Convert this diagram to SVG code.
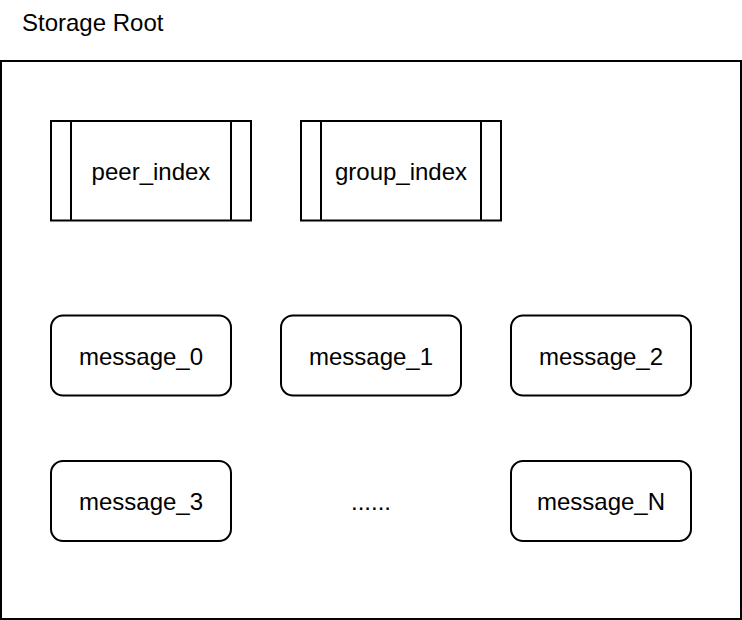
<svg xmlns="http://www.w3.org/2000/svg" width="742" height="620" viewBox="0 0 742 620">
<style>
.box{fill:#fff;stroke:#000;stroke-width:2}
.ln{stroke:#000;stroke-width:2;fill:none}
text{font-family:"Liberation Sans",Arial,Helvetica,sans-serif;font-size:24px;fill:#000}
.c{text-anchor:middle}
</style>
<rect width="742" height="620" fill="#fff"/>
<g id="storage-root">
<rect class="box" x="1" y="61" width="740" height="558"/>
<text x="22" y="31">Storage Root</text>
</g>
<g id="peer_index">
<rect class="box" x="51" y="121" width="200" height="99.5"/>
<line class="ln" x1="71" y1="121" x2="71" y2="220.5"/>
<line class="ln" x1="231" y1="121" x2="231" y2="220.5"/>
<text class="c" x="151" y="180">peer_index</text>
</g>
<g id="group_index">
<rect class="box" x="301" y="121" width="200" height="99.5"/>
<line class="ln" x1="321" y1="121" x2="321" y2="220.5"/>
<line class="ln" x1="481" y1="121" x2="481" y2="220.5"/>
<text class="c" x="401" y="180">group_index</text>
</g>
<g id="message_0">
<rect class="box" x="51" y="315.5" width="180" height="80" rx="12"/>
<text class="c" x="141" y="365">message_0</text>
</g>
<g id="message_1">
<rect class="box" x="281" y="315.5" width="180" height="80" rx="12"/>
<text class="c" x="371" y="365">message_1</text>
</g>
<g id="message_2">
<rect class="box" x="511" y="315.5" width="180" height="80" rx="12"/>
<text class="c" x="601" y="365">message_2</text>
</g>
<g id="message_3">
<rect class="box" x="51" y="461" width="180" height="80" rx="12"/>
<text class="c" x="141" y="510">message_3</text>
</g>
<g id="ellipsis">
<text class="c" x="371" y="510">......</text>
</g>
<g id="message_N">
<rect class="box" x="511" y="461" width="180" height="80" rx="12"/>
<text class="c" x="601" y="510">message_N</text>
</g>
<g id="connectors"/>
</svg>
